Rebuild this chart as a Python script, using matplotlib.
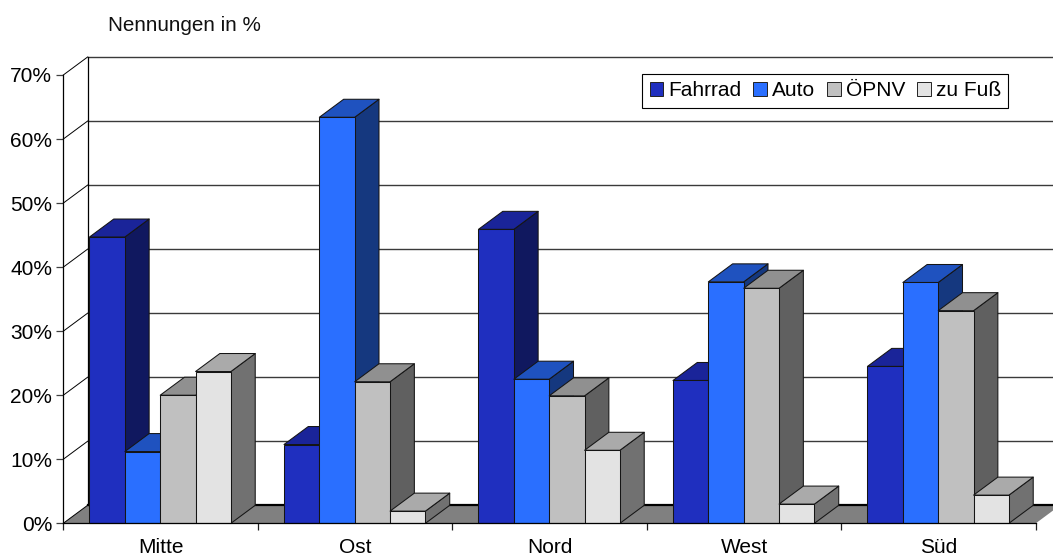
import matplotlib
matplotlib.use("Agg")
import matplotlib.pyplot as plt
from matplotlib.patches import Polygon, Patch
from matplotlib.ticker import FixedLocator, FuncFormatter

plt.rcParams['font.family'] = ['Liberation Sans', 'DejaVu Sans']

categories = ["Mitte", "Ost", "Nord", "West", "Süd"]
series_names = ["Fahrrad", "Auto", "ÖPNV", "zu Fuß"]
fahrrad = [44.7, 12.3, 45.9, 22.3, 24.5]
auto = [11.2, 63.4, 22.5, 37.7, 37.6]
oepnv = [20.0, 22.1, 19.9, 36.7, 33.2]
zu_fuss = [23.7, 1.9, 11.4, 3.0, 4.4]
y_ticks = [0, 10, 20, 30, 40, 50, 60, 70]
title_text = "Nennungen in %"

W, H = 1053, 557
front_colors = ["#1F2FBF", "#2A6FFF", "#C0C0C0", "#E3E3E3"]
top_colors = ["#1A2499", "#1F52BF", "#909090", "#AAAAAA"]
side_colors = ["#10185F", "#15387F", "#606060", "#717171"]

fig = plt.figure(figsize=(W / 100, H / 100), dpi=100, facecolor="white")
x0, x1, y0, y1 = 63.3, 1035.8, 523.3, 75.0
ax = fig.add_axes([x0 / W, 1 - y0 / H, (x1 - x0) / W, (y0 - y1) / H])
ax.set_xlim(0, len(categories))
ax.set_ylim(0, 70)
ax.patch.set_visible(False)

px_x = len(categories) / (x1 - x0)
px_y = 70 / (y0 - y1)
dx, dy = 24.3 * px_x, 18 * px_y
n_cat = len(categories)
bar_w = 1 / 5.5
lw = 0.75

# floor
ax.add_patch(Polygon([(0, 0), (dx, dy), (n_cat + dx, dy), (n_cat, 0)], closed=True,
                     facecolor="#808080", edgecolor="none", clip_on=False, zorder=1))
# back wall grid and side wall lines
for t in y_ticks:
    ax.plot([dx, n_cat + dx], [t + dy, t + dy], color="black" if t == 0 else "#3A3A3A",
            lw=1.6 if t == 0 else 1.0, clip_on=False, zorder=1.2)
    ax.plot([0, dx], [t, t + dy], color="black", lw=0.7, clip_on=False, zorder=1.2)
ax.plot([dx, dx], [dy, 70 + dy], color="black", lw=0.9, clip_on=False, zorder=1.2)

series = [fahrrad, auto, oepnv, zu_fuss]
z = 3
for c in range(n_cat):
    for s, values in enumerate(series):
        v = values[c]
        left = c + 0.74 * bar_w + s * bar_w
        right = left + bar_w
        ax.add_patch(Polygon([(right, 0), (right + dx, dy), (right + dx, v + dy), (right, v)],
                             closed=True, facecolor=side_colors[s], edgecolor="#151515",
                             lw=lw, clip_on=False, zorder=z, joinstyle="round"))
        ax.add_patch(Polygon([(left, v), (left + dx, v + dy), (right + dx, v + dy), (right, v)],
                             closed=True, facecolor=top_colors[s], edgecolor="#151515",
                             lw=lw, clip_on=False, zorder=z, joinstyle="round"))
        ax.bar(left, v, width=bar_w, align="edge", color=front_colors[s],
               edgecolor="#151515", lw=lw, clip_on=False, zorder=z + 0.1)
        z += 0.2

# axes
for sp in ("top", "right"):
    ax.spines[sp].set_visible(False)
for sp in ("left", "bottom"):
    ax.spines[sp].set_linewidth(0.9)
    ax.spines[sp].set_zorder(50)
ax.set_yticks(y_ticks)
ax.yaxis.set_major_formatter(FuncFormatter(lambda v, _: f"{int(v)}%"))
ax.tick_params(axis="y", length=5, width=0.9, pad=3, labelsize=15, color="#404040")
ax.set_xticks(range(n_cat + 1))
ax.set_xticklabels([])
ax.tick_params(axis="x", which="major", length=5, width=0.9, color="#202020")
ax.xaxis.set_minor_locator(FixedLocator([c + 0.5 for c in range(n_cat)]))
ax.set_xticklabels(categories, minor=True)
ax.tick_params(axis="x", which="minor", length=0, pad=10.5, labelsize=15)

fig.text(108 / W, 1 - 31 / H, title_text, fontsize=14.9, ha="left", va="baseline", color="#111111")

handles = [Patch(facecolor=front_colors[i], edgecolor="#222222", lw=0.7) for i in range(4)]
leg = ax.legend(handles, series_names, ncol=4, loc="upper left",
                bbox_to_anchor=(642 / W, 1 - 74 / H), bbox_transform=fig.transFigure,
                fontsize=15, frameon=True, fancybox=False, framealpha=1, edgecolor="black",
                handlelength=0.65, handleheight=0.65, handletextpad=0.24, columnspacing=0.58,
                borderpad=0.36, borderaxespad=0, labelspacing=0)
leg.get_frame().set_linewidth(0.8)
leg.set_zorder(100)

fig.savefig("out.png", dpi=100)
